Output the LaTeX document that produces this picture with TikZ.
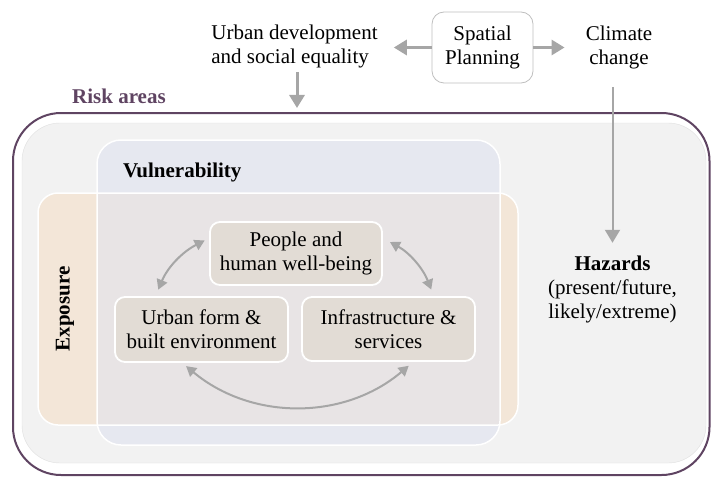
\documentclass[tikz,border=0pt]{standalone}
\usepackage{fontspec}
\setmainfont{Liberation Serif}
\usepackage{tikz}
\usetikzlibrary{arrows.meta}
\definecolor{riskpurple}{HTML}{5F4462}
\definecolor{arrowgray}{HTML}{A6A6A6}
\definecolor{areagray}{HTML}{F2F2F2}
\definecolor{vulnblue}{HTML}{E6E8F0}
\definecolor{expobeige}{HTML}{F3E6D8}
\definecolor{overlap}{HTML}{E8E4E5}
\definecolor{boxtaupe}{HTML}{E2DCD5}

\begin{document}
\begin{tikzpicture}[x=1pt, y=-1pt, font=\fontsize{21}{24}\selectfont,
		bigarrow/.style={draw=arrowgray, line width=3pt, -{Triangle[width=15pt,length=13pt]}},
		linkarrow/.style={draw=arrowgray, line width=2pt, {Triangle[width=11pt,length=10pt]}-{Triangle[width=11pt,length=10pt]}},
		factor/.style={draw=white, line width=1.8pt, fill=boxtaupe, rounded corners=10pt, align=center, inner sep=0pt},
		planbox/.style={draw=black!25, line width=0.8pt, fill=white, rounded corners=12pt, align=center, inner sep=0pt},
		plaintext/.style={align=center, inner sep=0pt}]
				\useasboundingbox (0,0) rectangle (711,476);
				\draw[riskpurple, line width=2pt, fill=white, rounded corners=48pt] (13,113) rectangle (709.5,475);
				\draw[black!12, fill=areagray, rounded corners=38pt] (22,123) rectangle (706,463);
				\fill[vulnblue, rounded corners=24pt] (97,140) rectangle (500,445);
				\fill[expobeige, rounded corners=20pt] (38,193) rectangle (518,425);
				\begin{scope}
					\clip[rounded corners=24pt] (97,140) rectangle (500,445);
					\fill[overlap, rounded corners=20pt] (38,193) rectangle (518,425);
				\end{scope}
				\draw[white, line width=1.5pt, rounded corners=24pt] (97,140) rectangle (500,445);
				\draw[white, line width=1.5pt, rounded corners=20pt] (38,193) rectangle (518,425);
				\node[planbox, minimum width=101pt, minimum height=71pt] (plan) at (482.5,47.5) {Spatial\\Planning};
				\node[plaintext, align=left] (urban) at (294.5,46) {Urban development\\and social equality};
				\node[plaintext] (climate) at (619,47) {Climate\\change};
				\node[plaintext] (hazards) at (612.5,289.5) {\textbf{Hazards}\\(present/future,\\likely/extreme)};
				\node[anchor=base west, inner sep=0pt, text=riskpurple] (risk) at (72,103) {\textbf{Risk areas}};
				\node[anchor=base west, inner sep=0pt] (vuln) at (123,177) {\textbf{Vulnerability}};
				\node[rotate=90, inner sep=0pt] (expo) at (65,309) {\textbf{Exposure}};
				\node[factor, minimum width=172pt, minimum height=63pt] (people) at (296,253.5) {People and\\human well-being};
				\node[factor, minimum width=173pt, minimum height=65pt] (form) at (201.5,329.5) {Urban form \&\\built environment};
				\node[factor, minimum width=173pt, minimum height=64pt] (infra) at (388.5,329) {Infrastructure \&\\services};
				\coordinate (riskin) at (297,108);
				\draw[bigarrow, shorten >=16pt] (plan.west) -- (plan.west -| urban.east);
				\draw[bigarrow, shorten >=21pt] (plan.east) -- (plan.east -| climate.west);
				\draw[bigarrow, shorten <=4pt] (urban.south -| riskin) -- (riskin);
				\draw[bigarrow, line width=2pt, shorten <=18pt, shorten >=13pt] (climate.south -| hazards.north) -- (hazards.north);
				\draw[linkarrow, shorten <=7pt, shorten >=5pt] (form.144) to[bend left=20] (people.170);
				\draw[linkarrow, shorten <=8pt, shorten >=7pt] (people.10) to[bend left=20] (infra.36);
				\draw[linkarrow, shorten <=5pt, shorten >=6pt] (form.-120) to[bend right=40] (infra.-53);
			\end{tikzpicture}
\end{document}
